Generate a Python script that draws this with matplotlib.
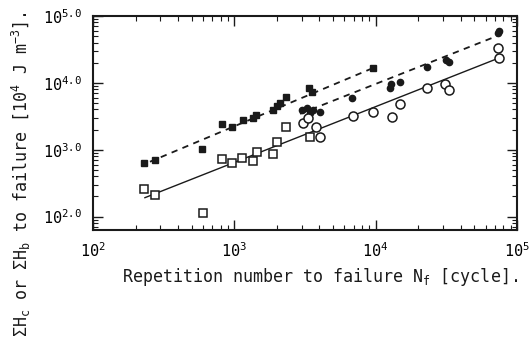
import numpy as np
import matplotlib
matplotlib.use('Agg')
import matplotlib.pyplot as plt
from matplotlib.ticker import LogLocator, NullFormatter, FixedLocator

# Filled squares (upper dashed fit)
nf_sq_fill = [230, 275, 590, 818, 963, 1150, 1357, 1425, 1879, 2005, 2105, 2322, 3380, 3548, 9590]
h_sq_fill = [640, 710, 1035, 2440, 2200, 2800, 3000, 3330, 3950, 4540, 5030, 6180, 8420, 7340, 16700]

# Filled circles (middle dashed fit)
nf_ci_fill = [3013, 3270, 3606, 4043, 3432, 6808, 12640, 12850, 14890, 23100, 31500, 33050, 73500, 74700]
h_ci_fill = [3950, 4240, 3950, 3690, 3565, 5970, 8420, 9660, 10350, 17330, 22040, 20570, 55750, 59700]

# Open squares
nf_sq_open = [230, 275, 600, 818, 963, 1134, 1357, 1448, 1879, 2005, 2322, 3432]
h_sq_open = [262, 213, 115, 735, 640, 760, 685, 933, 871, 1316, 2200, 1563]

# Open circles
nf_ci_open = [3064, 3325, 3788, 4043, 6920, 9590, 13060, 14890, 23100, 31000, 33050, 73500, 74700]
h_ci_open = [2530, 3000, 2200, 1563, 3215, 3690, 3110, 4860, 8420, 9660, 7870, 33300, 23600]

# Fitted lines (end points)
fit_upper_n = [253, 9590]
fit_upper_h = [662, 16700]
fit_mid_n = [2917, 72300]
fit_mid_h = [3445, 50300]
fit_low_n = [233, 74700]
fit_low_h = [192, 23600]

plt.rcParams['font.family'] = 'DejaVu Sans Mono'
plt.rcParams['mathtext.fontset'] = 'custom'
plt.rcParams['mathtext.rm'] = 'DejaVu Sans Mono'
plt.rcParams['mathtext.it'] = 'DejaVu Sans Mono:italic'

fig = plt.figure(figsize=(5.29, 3.42), dpi=100)
ax = fig.add_axes([0.1758, 0.3275, 0.8015, 0.6257])

ink = '#1a1a1a'
ax.plot(fit_upper_n, fit_upper_h, color=ink, lw=1.3, ls=(0, (3.5, 3)))
ax.plot(fit_mid_n, fit_mid_h, color=ink, lw=1.3, ls=(0, (3.5, 3)))
ax.plot(fit_low_n, fit_low_h, color=ink, lw=1.0, ls='-')

ax.plot(nf_sq_fill, h_sq_fill, 's', ms=4.5, color=ink, mec=ink)
ax.plot(nf_ci_fill, h_ci_fill, 'o', ms=4.5, color=ink, mec=ink)
ax.plot(nf_sq_open, h_sq_open, 's', ms=6, mfc='white', mec=ink, mew=1.1)
ax.plot(nf_ci_open, h_ci_open, 'o', ms=6.5, mfc='white', mec=ink, mew=1.1)

ax.set_xscale('log')
ax.set_yscale('log')
ax.set_xlim(1e2, 1e5)
ax.set_ylim(10 ** 1.8, 1e5)

ax.yaxis.set_major_locator(FixedLocator([1e2, 1e3, 1e4, 1e5]))
ax.set_yticklabels([r'$\mathrm{10^{2.0}}$', r'$\mathrm{10^{3.0}}$', r'$\mathrm{10^{4.0}}$', r'$\mathrm{10^{5.0}}$'])
ax.xaxis.set_major_locator(FixedLocator([1e2, 1e3, 1e4, 1e5]))
ax.set_xticklabels([r'$\mathrm{10^{2}}$', r'$\mathrm{10^{3}}$', r'$\mathrm{10^{4}}$', r'$\mathrm{10^{5}}$'])
ax.xaxis.set_minor_locator(LogLocator(base=10, subs=np.arange(2, 10)))
ax.yaxis.set_minor_locator(LogLocator(base=10, subs=np.arange(2, 10)))
ax.xaxis.set_minor_formatter(NullFormatter())
ax.yaxis.set_minor_formatter(NullFormatter())

ax.tick_params(which='both', direction='in', top=True, right=True, color=ink)
ax.tick_params(which='major', length=7, width=1.0, labelsize=11, pad=8)
ax.tick_params(which='minor', length=3.5, width=0.8)
for s in ax.spines.values():
    s.set_linewidth(1.5)
    s.set_color(ink)

ax.set_xlabel(r'Repetition number to failure N$_\mathrm{f}$ [cycle].', fontsize=12, color=ink)
ax.xaxis.set_label_coords(0.535, -0.17)
fig.text(0.04, 0.49, r'$\Sigma$H$_\mathrm{c}$ or $\Sigma$H$_\mathrm{b}$ to failure [10$^4$ J m$^{-3}$].',
         rotation=90, fontsize=12, ha='center', va='center', color=ink)

fig.savefig('out.png', dpi=100)
